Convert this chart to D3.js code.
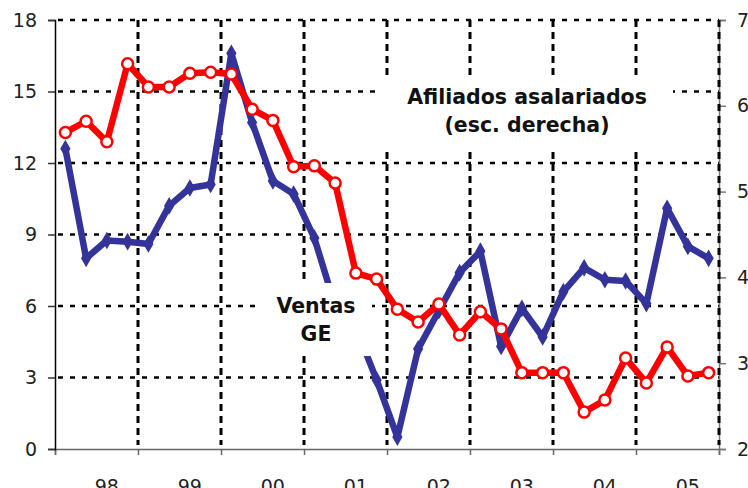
<!DOCTYPE html>
<html>
<head>
<meta charset="utf-8">
<script src="https://cdn.jsdelivr.net/npm/d3@7"></script>
<style>
  body { margin: 0; background: #fff; }
  svg { display: block; font-family: "DejaVu Sans", Verdana, sans-serif; }
</style>
</head>
<body>
<script>
// year labels, one per 4 quarters
var years = ["98", "99", "00", "01", "02", "03", "04", "05"];

// Ventas GE (left scale), quarterly
var ventas = [12.6, 8.0, 8.75, 8.7, 8.6, 10.2, 10.95, 11.1,
              16.6, 13.7, 11.25, 10.7, 8.85, 6.0, 5.1, 2.9,
              0.5, 4.2, 5.8, 7.4, 8.3, 4.3, 5.9, 4.7,
              6.6, 7.6, 7.1, 7.05, 6.1, 10.1, 8.5, 8.0];

// Afiliados asalariados (right scale), quarterly
var afiliados = [5.69, 5.82, 5.58, 6.49, 6.22, 6.22, 6.38, 6.39,
                 6.37, 5.96, 5.83, 5.29, 5.30, 5.10, 4.05, 3.98,
                 3.63, 3.48, 3.69, 3.33, 3.60, 3.40, 2.89, 2.89,
                 2.89, 2.43, 2.57, 3.06, 2.77, 3.19, 2.85, 2.89];

var leftTicks = [0, 3, 6, 9, 12, 15, 18];
var rightTicks = [2, 3, 4, 5, 6, 7];

var width = 748, height = 488;
var margin = { left: 55, right: 29, top: 20, bottom: 39 };

var svg = d3.select("body").append("svg")
    .attr("width", width)
    .attr("height", height);

var x = d3.scaleLinear()
    .domain([0, ventas.length])
    .range([margin.left, width - margin.right]);
var yL = d3.scaleLinear().domain([0, 18]).range([height - margin.bottom, margin.top]);
var yR = d3.scaleLinear().domain([2, 7]).range([height - margin.bottom, margin.top]);

var x0 = x.range()[0], x1 = x.range()[1];
var yTop = yL(18), yBot = yL(0);

// horizontal grid
svg.append("g")
  .selectAll("line")
  .data(leftTicks.filter(function(d) { return d > 0; }))
  .enter().append("line")
    .attr("x1", x0 + 3).attr("x2", x1)
    .attr("y1", function(d) { return yL(d); })
    .attr("y2", function(d) { return yL(d); })
    .attr("stroke", "#000")
    .attr("stroke-width", 2.5)
    .attr("stroke-dasharray", "5,7");

// bottom axis (ticks at year boundaries)
var yearBounds = d3.range(0, ventas.length + 1, 4);
svg.append("g")
    .attr("transform", "translate(0," + yBot + ")")
    .call(d3.axisBottom(x).tickValues(yearBounds).tickSize(6).tickFormat(""))
    .call(function(g) {
      g.select(".domain").attr("stroke", "#666").attr("stroke-width", 1.5);
      g.selectAll(".tick line").attr("stroke", "#666").attr("stroke-width", 1.5);
    });

// right axis
svg.append("g")
    .attr("transform", "translate(" + x1 + ",0)")
    .call(d3.axisRight(yR).tickValues(rightTicks).tickSize(7).tickPadding(11))
    .call(function(g) {
      g.select(".domain").attr("stroke", "#777").attr("stroke-width", 1.5);
      g.selectAll(".tick line").attr("stroke", "#777").attr("stroke-width", 1.5);
      g.selectAll("text").attr("font-size", 19).attr("fill", "#222")
        .attr("font-family", "DejaVu Sans, Verdana, sans-serif");
    });

// vertical grid at year boundaries
svg.append("g")
  .selectAll("line")
  .data(yearBounds.slice(1))
  .enter().append("line")
    .attr("x1", function(d) { return x(d); })
    .attr("x2", function(d) { return x(d); })
    .attr("y1", yTop).attr("y2", yBot - 4)
    .attr("stroke", "#000")
    .attr("stroke-width", 3)
    .attr("stroke-dasharray", "7,5");

// left axis
svg.append("g")
    .attr("transform", "translate(" + x0 + ",0)")
    .call(d3.axisLeft(yL).tickValues(leftTicks).tickSize(7).tickPadding(11))
    .call(function(g) {
      g.select(".domain").attr("stroke", "#000").attr("stroke-width", 1.5);
      g.selectAll(".tick line").attr("stroke", "#333").attr("stroke-width", 1.5);
      g.selectAll("text").attr("font-size", 19).attr("fill", "#222")
        .attr("font-family", "DejaVu Sans, Verdana, sans-serif");
    });

// year labels, centred on the third quarter
svg.append("g")
  .selectAll("text")
  .data(years)
  .enter().append("text")
    .attr("x", function(d, i) { return x(i * 4 + 2.5); })
    .attr("y", 493)
    .attr("text-anchor", "middle")
    .attr("font-size", 19)
    .attr("fill", "#222")
    .text(function(d) { return d; });

// Ventas GE line
var lineL = d3.line()
    .x(function(d, i) { return x(i + 0.5); })
    .y(function(d) { return yL(d); });

svg.append("path")
    .datum(ventas)
    .attr("d", lineL)
    .attr("fill", "none")
    .attr("stroke", "#333399")
    .attr("stroke-width", 6.5)
    .attr("stroke-linejoin", "round");

svg.append("g")
  .selectAll("path")
  .data(ventas)
  .enter().append("path")
    .attr("d", d3.symbol().type(d3.symbolDiamond).size(90))
    .attr("transform", function(d, i) {
      return "translate(" + x(i + 0.5) + "," + yL(d) + ")";
    })
    .attr("fill", "#333399");

// Afiliados line
var lineR = d3.line()
    .x(function(d, i) { return x(i + 0.5); })
    .y(function(d) { return yR(d); });

svg.append("path")
    .datum(afiliados)
    .attr("d", lineR)
    .attr("fill", "none")
    .attr("stroke", "#ff0000")
    .attr("stroke-width", 6.5)
    .attr("stroke-linejoin", "round");

svg.append("g")
  .selectAll("circle")
  .data(afiliados)
  .enter().append("circle")
    .attr("cx", function(d, i) { return x(i + 0.5); })
    .attr("cy", function(d) { return yR(d); })
    .attr("r", 5.5)
    .attr("fill", "#fff")
    .attr("stroke", "#ff0000")
    .attr("stroke-width", 2.5);

// text labels with white boxes
function label(lines, cx, y0, box) {
  svg.append("rect")
      .attr("x", box[0]).attr("y", box[1])
      .attr("width", box[2]).attr("height", box[3])
      .attr("fill", "#fff");
  svg.append("g")
    .selectAll("text")
    .data(lines)
    .enter().append("text")
      .attr("x", cx)
      .attr("y", function(d, i) { return y0 + i * 28; })
      .attr("text-anchor", "middle")
      .attr("font-size", 20.5)
      .attr("font-weight", "bold")
      .attr("fill", "#111")
      .text(function(d) { return d; });
}

label(["Afiliados asalariados", "(esc. derecha)"], 527, 104, [381, 75, 292, 73]);
label(["Ventas", "GE"], 316, 313, [258, 283, 114, 73]);
</script>
</body>
</html>
